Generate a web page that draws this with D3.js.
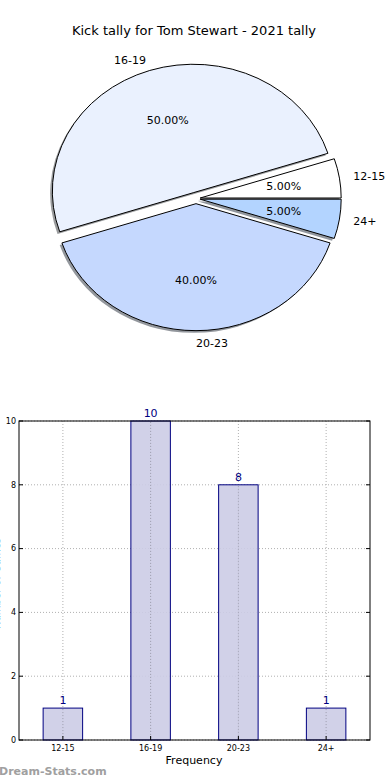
<!DOCTYPE html>
<html><head><meta charset="utf-8">
<script src="https://cdn.jsdelivr.net/npm/d3@7/dist/d3.min.js"></script>
<style>
body{margin:0;background:#fff;}
svg{display:block;font-family:"DejaVu Sans",sans-serif;}
</style></head>
<body><svg id="c" width="390" height="780"></svg>
<script>
const categories = ["12-15","16-19","20-23","24+"];
const counts = [1,10,8,1];
const sliceColors = ["#ffffff","#eaf1fe","#c5d8fe","#b3d4ff"];
const explode = [0.03,0.05,0.04,0.03];
const yTicks = [0,2,4,6,8,10];
const title = "Kick tally for Tom Stewart - 2021 tally";

const svg = d3.select("#c");

// Title
svg.append("text").attr("x",194).attr("y",35).attr("text-anchor","middle")
  .attr("font-size",13).attr("fill","#000").text(title);

// ---------- Pie (elliptical, matplotlib-like) ----------
const total = d3.sum(counts);
const cx0 = 196, cy0 = 198.6, rx = 141, ry = 127;
let acc = 0;
const slices = counts.map((v,i)=>{
  const a1 = acc/total*2*Math.PI; acc += v; const a2 = acc/total*2*Math.PI;
  const mid = (a1+a2)/2;
  const cx = cx0 + explode[i]*rx*Math.cos(mid);
  const cy = cy0 - explode[i]*ry*Math.sin(mid);
  return {i, v, a1, a2, mid, cx, cy};
});
const arc = d3.arc().innerRadius(0).outerRadius(1);
function arcPath(s){ return arc({startAngle:Math.PI/2 - s.a2, endAngle:Math.PI/2 - s.a1}); }

// shadows
const shadow = svg.append("g");
slices.forEach(s=>{
  const c = d3.rgb(sliceColors[s.i]);
  shadow.append("path").attr("d",arcPath(s))
    .attr("transform",`translate(${s.cx-2.2},${s.cy+2.2}) scale(${rx},${ry})`)
    .attr("fill",d3.rgb(c.r*0.3,c.g*0.3,c.b*0.3)).attr("fill-opacity",0.55);
});
const wedges = svg.append("g");
slices.forEach(s=>{
  wedges.append("path").attr("d",arcPath(s))
    .attr("transform",`translate(${s.cx},${s.cy}) scale(${rx},${ry})`)
    .attr("fill",sliceColors[s.i]).attr("stroke","#000").attr("stroke-width",1)
    .attr("vector-effect","non-scaling-stroke");
});
const labs = svg.append("g").attr("font-size",11).attr("fill","#000");
slices.forEach(s=>{
  const c = Math.cos(s.mid), sn = Math.sin(s.mid);
  labs.append("text").attr("x",s.cx+1.1*rx*c).attr("y",s.cy-1.1*ry*sn)
    .attr("dy","0.35em").attr("text-anchor", c < -1e-6 ? "end" : "start")
    .text(categories[s.i]);
  labs.append("text").attr("x",s.cx+0.6*rx*c).attr("y",s.cy-0.6*ry*sn)
    .attr("dy","0.35em").attr("text-anchor","middle")
    .text(d3.format(".2f")(s.v/total*100)+"%");
});

// ---------- Bar chart ----------
const L=19, R=370, T=421, B=740;
const x = d3.scaleLinear().domain([-0.5,3.5]).range([L,R]);
const y = d3.scaleLinear().domain([0,10]).range([B,T]);
const bw = x(0.45)-x(0);
const g = svg.append("g");

// grid
g.selectAll(".hg").data(yTicks).join("line")
  .attr("x1",L).attr("x2",R).attr("y1",d=>y(d)).attr("y2",d=>y(d))
  .attr("stroke","#b0b0b0").attr("stroke-dasharray","1,2");
g.selectAll(".vg").data(categories).join("line")
  .attr("x1",(d,i)=>x(i)).attr("x2",(d,i)=>x(i)).attr("y1",T).attr("y2",B)
  .attr("stroke","#b0b0b0").attr("stroke-dasharray","1,2");

// bars
g.selectAll(".bar").data(counts).join("rect")
  .attr("x",(d,i)=>x(i)-bw/2).attr("width",bw)
  .attr("y",d=>y(d)).attr("height",d=>B-y(d))
  .attr("fill","#cccce6").attr("fill-opacity",0.9).attr("stroke","#000080").attr("stroke-width",1);
g.selectAll(".vg2").data(categories).join("line")
  .attr("x1",(d,i)=>x(i)).attr("x2",(d,i)=>x(i)).attr("y1",(d,i)=>y(counts[i])+1).attr("y2",B)
  .attr("stroke","#a0a0b0").attr("stroke-dasharray","1,2");

g.selectAll(".vl").data(counts).join("text")
  .attr("x",(d,i)=>x(i)).attr("y",d=>y(d)-4)
  .attr("text-anchor","middle").attr("font-size",11).attr("fill","#000080")
  .text(d=>d);

// frame
g.append("rect").attr("x",L).attr("y",T).attr("width",R-L).attr("height",B-T)
  .attr("fill","none").attr("stroke","#000").attr("stroke-width",1);

// ticks
g.selectAll(".yt").data(yTicks).join("line")
  .attr("x1",L).attr("x2",L+4).attr("y1",d=>y(d)).attr("y2",d=>y(d)).attr("stroke","#000");
g.selectAll(".yt2").data(yTicks).join("line")
  .attr("x1",R).attr("x2",R-4).attr("y1",d=>y(d)).attr("y2",d=>y(d)).attr("stroke","#000");
g.selectAll(".ytl").data(yTicks).join("text")
  .attr("x",L-3).attr("y",d=>y(d)).attr("dy","0.35em").attr("text-anchor","end")
  .attr("font-size",8).attr("fill","#000").text(d=>d);
g.selectAll(".xt").data(categories).join("line")
  .attr("x1",(d,i)=>x(i)).attr("x2",(d,i)=>x(i)).attr("y1",B).attr("y2",B-4).attr("stroke","#000");
g.selectAll(".xtl").data(categories).join("text")
  .attr("x",(d,i)=>x(i)).attr("y",B+11).attr("text-anchor","middle")
  .attr("font-size",8).attr("fill","#000").text(d=>d);

svg.append("text").attr("x",194).attr("y",764).attr("text-anchor","middle")
  .attr("font-size",11).attr("fill","#000").text("Frequency");
svg.append("text").attr("transform",`translate(0,${(T+B)/2+3}) rotate(-90)`)
  .attr("text-anchor","middle").attr("font-size",10).attr("fill","#000").text("Number of Games");

svg.append("text").attr("x",-1).attr("y",775).attr("font-size",11).attr("font-weight","bold")
  .attr("fill","#a0a0a0").text("Dream-Stats.com");
</script></body></html>
